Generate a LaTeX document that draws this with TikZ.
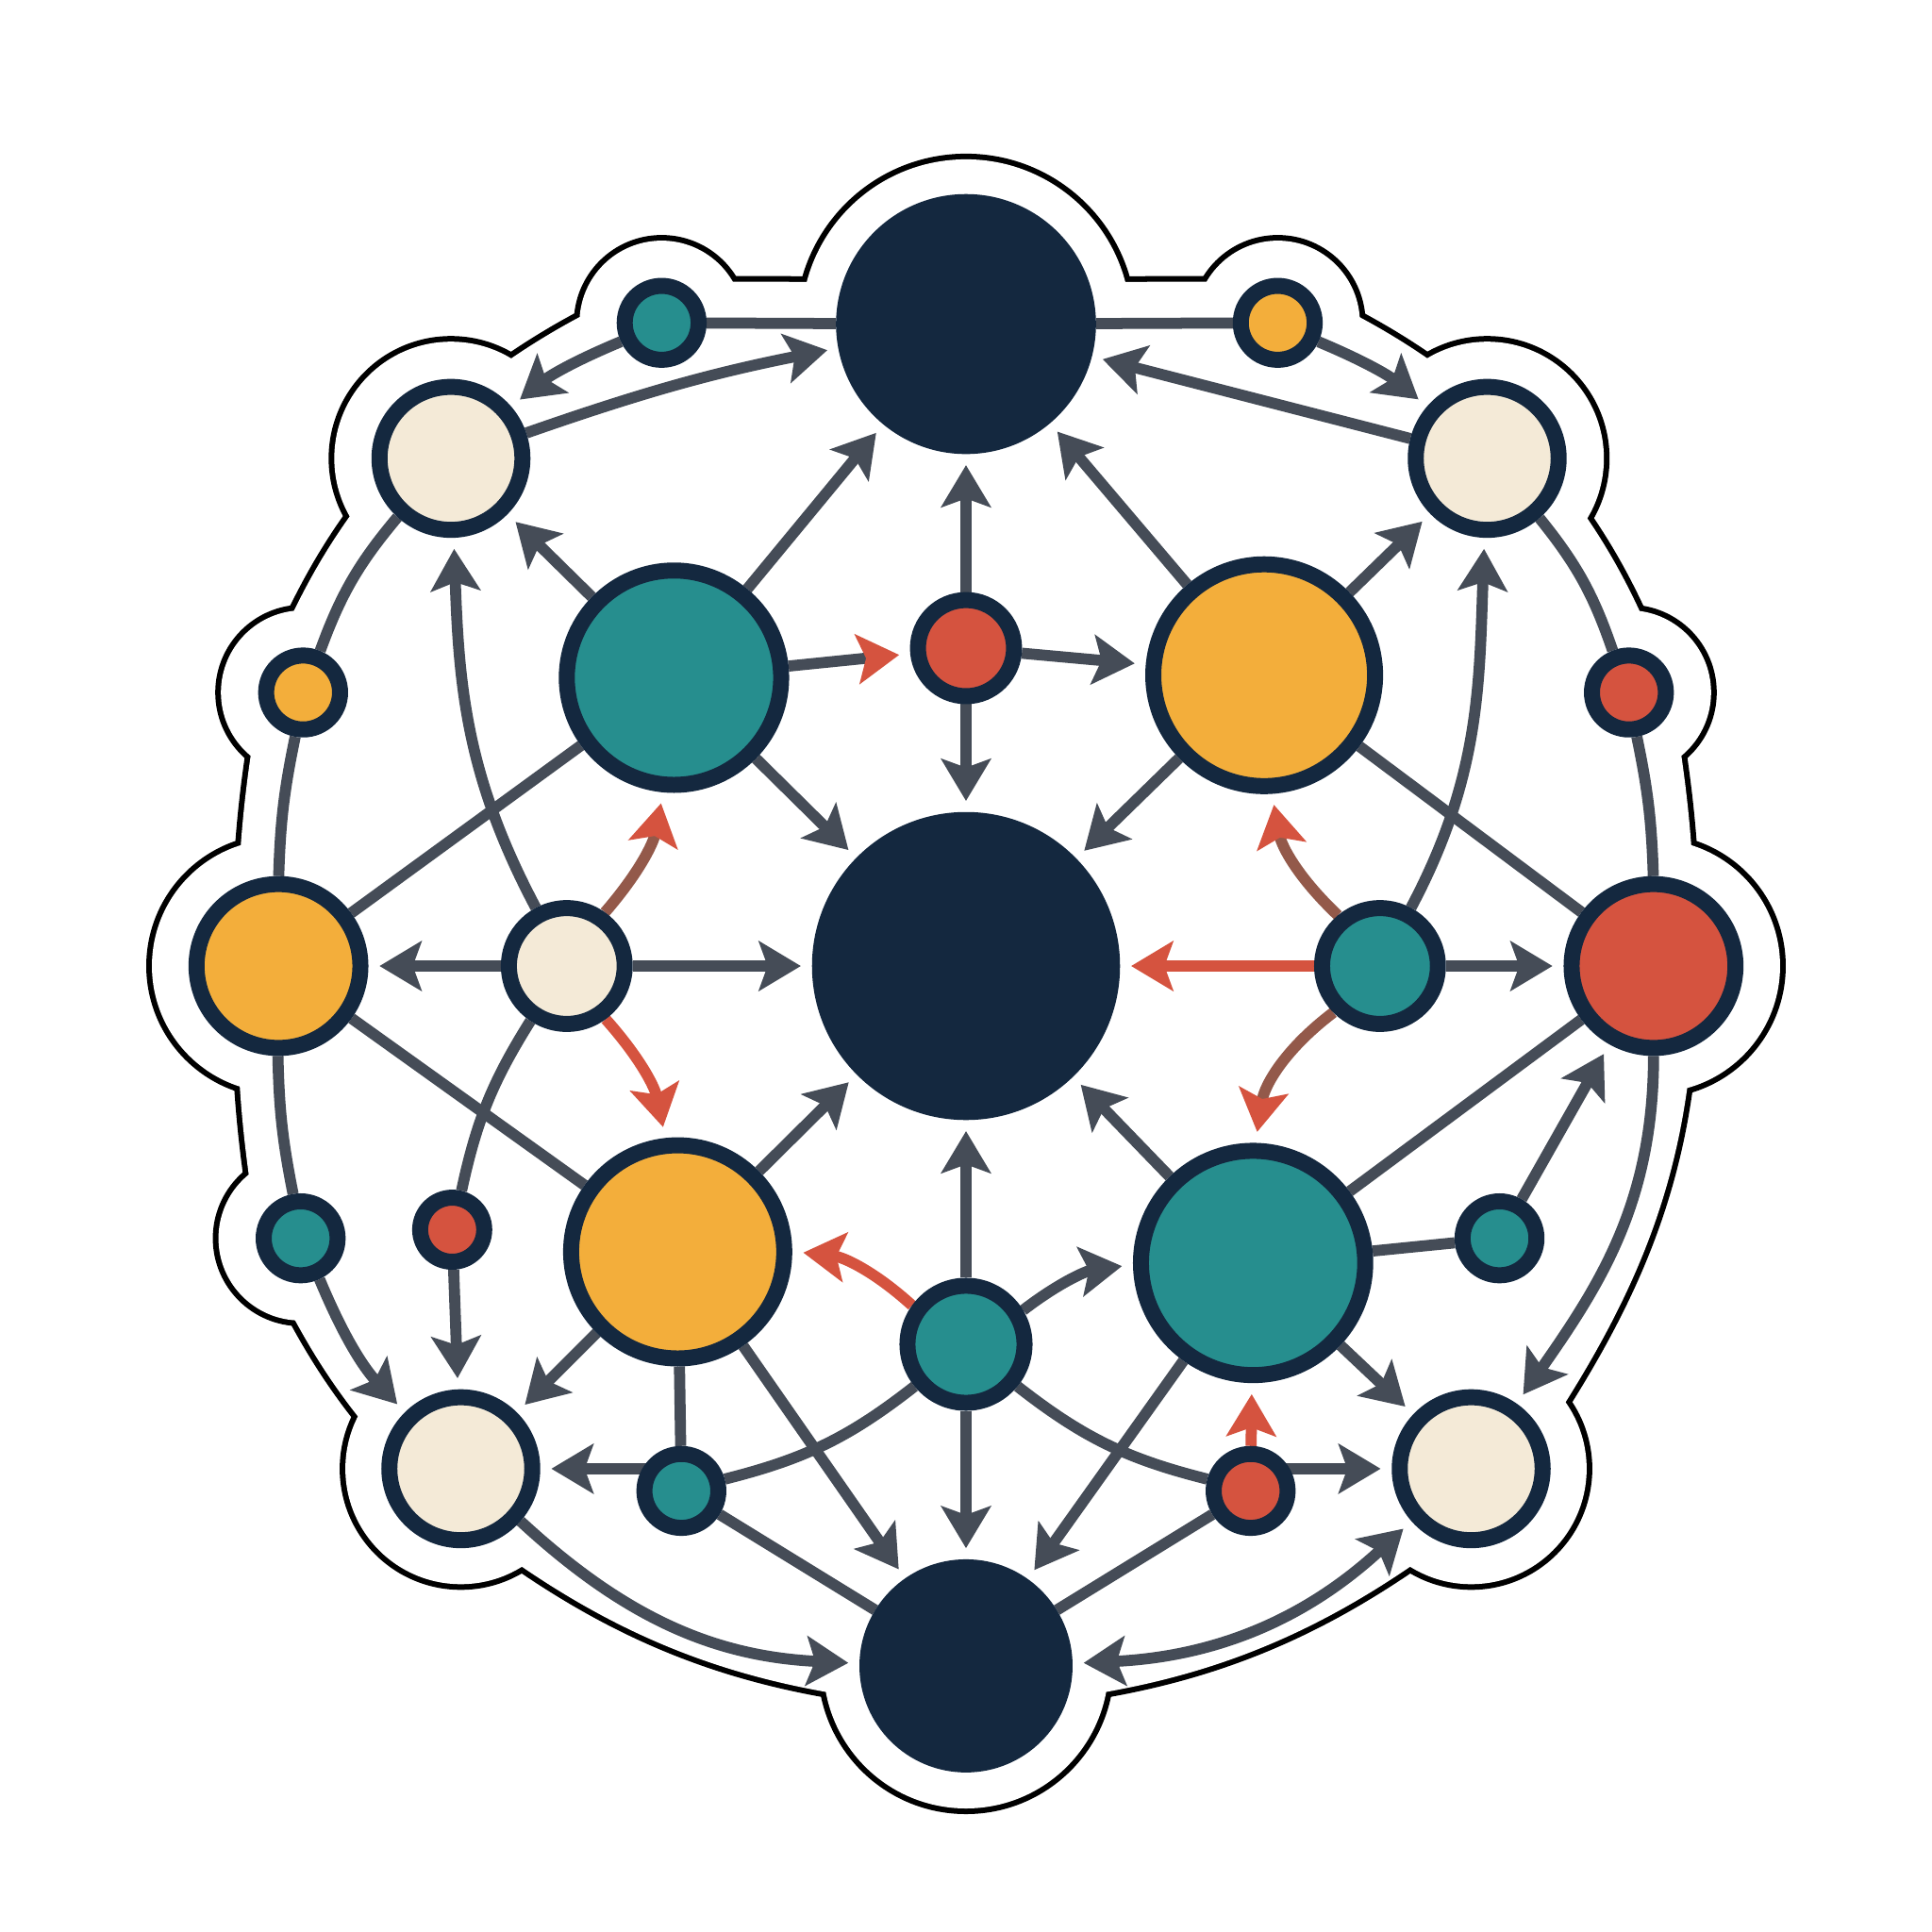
\documentclass[tikz,border=0pt]{standalone}
\usetikzlibrary{arrows.meta,backgrounds}

\definecolor{cnavy}{HTML}{14283F}
\definecolor{cteal}{HTML}{268E8E}
\definecolor{camber}{HTML}{F3AE3B}
\definecolor{ccoral}{HTML}{D5533F}
\definecolor{ccream}{HTML}{F4EAD7}
\definecolor{cslate}{HTML}{454C57}
\definecolor{crust}{HTML}{93594A}

\tikzset{
  flowtip/.tip={Stealth[length=3.4mm,width=4mm,inset=0.7mm]},
  hottip/.tip={Stealth[length=3.4mm,width=4mm,inset=0.7mm,color=ccoral]},
  dot/.style={circle, inner sep=0pt, draw=cnavy, line width=1.3mm},
  link/.style={draw=cslate, line width=0.9mm},
  flow/.style={link, -flowtip, shorten >=0.9mm},
  hot/.style={flow, draw=ccoral, -hottip},
  warm/.style={flow, draw=crust, -hottip},
}

% outer nodes of the sticker and their outline radius (mm)
\newcommand{\stickerdots}{ntop/13.6, ambt/6.9, creamtr/9.7, reds/6.9, redr/10.5,
  creambr/9.6, nbase/11.8, creambl/9.6, teals/6.9, ambl/10.5,
  ambs/6.9, creamtl/9.7, tealt/6.9}
\newcommand{\stickerring}{(ntop.center) -- (ambt.center) to[bend left=8] (creamtr.center)
  to[bend left=10] (reds.center) to[bend left=5] (redr.center)
  to[out=-90,in=55] (creambr.center) to[bend left=18] (nbase.center)
  to[bend left=18] (creambl.center) to[bend left=10] (teals.center)
  to[bend left=5] (ambl.center) to[bend left=5] (ambs.center)
  to[bend left=10] (creamtl.center) to[bend left=8] (tealt.center) -- cycle}

\begin{document}
\begin{tikzpicture}[x=0.1mm, y=0.1mm]
  \useasboundingbox (0,0) rectangle (1568,-1568);

  % nodes: name / x / y / size / fill
  \foreach \n/\x/\y/\sz/\col in {
      ntop/784/263/19.8/cnavy, nhub/784/784/23.7/cnavy, nbase/784/1352/16.0/cnavy,
      tealA/547/550/17.4/cteal, ambA/1026/548/18.0/camber,
      ambB/550/1016/17.3/camber, tealB/1017/1025/18.2/cteal,
      redc/784/526/7.8/ccoral, tealc/784/1091/9.5/cteal,
      creamm/460/784/9.4/ccream, tealm/1120/784/9.4/cteal,
      ambl/226/784/13.3/camber, redr/1342/784/13.3/ccoral,
      creamtl/366/372/11.6/ccream, creamtr/1207/372/11.6/ccream,
      creambl/374/1192/11.6/ccream, creambr/1194/1192/11.6/ccream,
      tealt/537/262/6.0/cteal, ambt/1037/262/6.0/camber,
      ambs/246/562/6.0/camber, reds/1322/562/6.0/ccoral,
      teals/244/1005/6.0/cteal, redll/367/998/5.2/ccoral,
      tealr/1217/1005/6.0/cteal, tealb/553/1210/6.0/cteal,
      redb/1015/1210/6.0/ccoral}
    \node[dot, fill=\col, minimum size=\sz mm] (\n) at (\x,-\y) {};

  \begin{pgfonlayer}{background}
    \fill[white] (0,0) rectangle (1568,-1568);
    % sticker outline
    \foreach \n/\r in \stickerdots
      \fill[black] (\n.center) circle [radius=\r mm+0.23mm];
    \draw[black, line width=7.66mm, line join=round] \stickerring;
    \foreach \n/\r in \stickerdots
      \fill[white] (\n.center) circle [radius=\r mm-0.23mm];
    \filldraw[white, line width=6.74mm, line join=round] \stickerring;

    % straight arrows
    \foreach \a/\b in {tealA/ntop, ambA/ntop, redc/ntop, redc/ambA, redc/nhub,
        tealA/nhub, ambA/nhub, ambB/nhub, tealB/nhub, tealc/nhub, tealc/nbase,
        tealA/creamtl, ambA/creamtr, ambB/creambl, tealB/creambr,
        creamm/ambl, creamm/nhub, tealm/redr, ambB/nbase, tealB/nbase,
        tealr/redr, redll/creambl, creamtr/ntop}
      \draw[flow] (\a) -- (\b);
    % plain links
    \foreach \a/\b in {tealt/ntop, ambt/ntop, tealA/ambl, ambA/redr, ambl/ambB,
        tealB/redr, ambB/tealb, tealb/nbase, redb/nbase, tealB/tealr}
      \draw[link] (\a) -- (\b);
    \draw[flow, -hottip] (tealA) -- (redc);
    \draw[hot] (tealm) -- (nhub);
    \draw[hot] (redb) -- (tealB);
    \draw[flow] (creambl.east -| tealb.center) -- (creambl.east);
    \draw[flow] (creambr.west -| redb.center) -- (creambr.west);

    % outer ring
    \draw[flow] (tealt) to[bend right=8] (creamtl);
    \draw[flow] (creamtl) to[bend left=4] (ntop);
    \draw[flow] (ambt) to[bend left=8] (creamtr);
    \draw[link] (creamtl) to[bend right=10] (ambs);
    \draw[link] (ambs) to[bend right=5] (ambl);
    \draw[link] (ambl) to[bend right=5] (teals);
    \draw[flow] (teals) to[bend right=10] (creambl);
    \draw[flow] (creambl) to[bend right=20] (nbase);
    \draw[flow, flowtip-flowtip, shorten <=0.9mm] (nbase) to[bend right=20] (creambr);
    \draw[flow] (redr) to[out=-90, in=55] (creambr);
    \draw[link] (creamtr) to[bend left=10] (reds);
    \draw[link] (reds) to[bend left=5] (redr);

    % inner curves
    \draw[flow] (creamm) to[out=118, in=-88] (creamtl);
    \draw[flow] (tealm) to[out=62, in=-92] (creamtr);
    \draw[link] (creamm) to[bend right=10] (redll);
    \draw[link] (tealc) to[bend left=12] (tealb);
    \draw[link] (tealc) to[bend right=12] (redb);
    \draw[hot] (tealc) to[bend right=18] (ambB);
    \draw[flow] (tealc) to[bend left=15] (tealB);
    \draw[warm] (creamm) to[bend right=15] (tealA);
    \draw[hot] (creamm) to[bend left=15] (ambB);
    \draw[warm] (tealm) to[bend left=18] (ambA);
    \draw[warm] (tealm) to[bend right=22] (tealB);
  \end{pgfonlayer}
\end{tikzpicture}
\end{document}
